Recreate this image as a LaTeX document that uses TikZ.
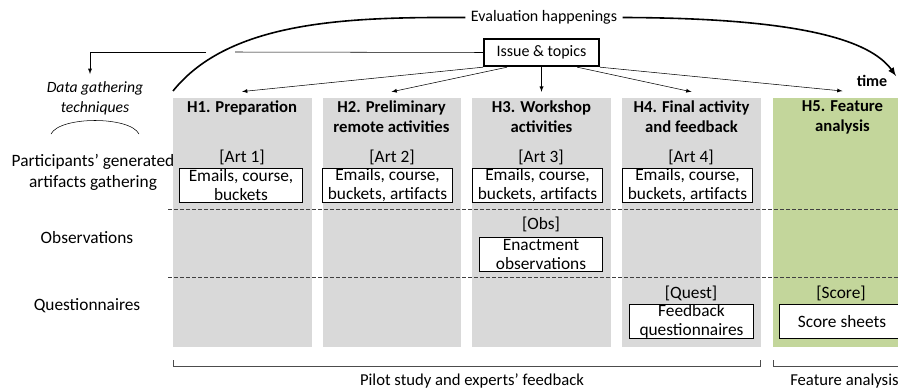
\documentclass[tikz,border=0pt]{standalone}
\usepackage{fontspec}
\setmainfont{Carlito}
\usetikzlibrary{arrows}
\definecolor{colgray}{HTML}{D9D9D9}
\definecolor{colgreen}{HTML}{C3D69B}
\tikzset{
  lbl/.style={inner sep=0.75pt, align=center, font=\fontsize{13}{15.75}\selectfont},
  hdr/.style={inner sep=0.75pt, align=center, font=\fontsize{12.5}{15}\selectfont\bfseries},
  itembox/.style={draw, fill=white, line width=0.75pt, inner xsep=0pt, inner ysep=-1pt, align=center,
    font=\fontsize{13}{14.25}\selectfont, minimum height=25.5pt},
}

\begin{document}
\begin{tikzpicture}[x=0.75pt,y=0.75pt,yscale=-1,xscale=1]
\useasboundingbox (0,0) rectangle (898,389);
\clip (0,0) rectangle (898,389);

%Shape: Rectangle (phase columns)
\foreach \x in {173,322.5,472,622}
  \fill[colgray] (\x,98) rectangle ++(138.5,249);
\fill[colgreen] (773,98) rectangle (912,347);

%Straight Lines (row separators)
\draw[dash pattern=on 3pt off 1.5pt, line width=0.6pt, color=black!75] (168,209) -- (898,209);
\draw[dash pattern=on 3pt off 1.5pt, line width=0.6pt, color=black!75] (168,277) -- (898,277);

% Text Node
\draw (242,108) node [hdr] (h1) {H1. Preparation};
\draw (391.5,117) node [hdr] (h2) {H2. Preliminary\\remote activities};
\draw (541.5,117) node [hdr] (h3) {H3. Workshop\\activities};
\draw (691.5,117) node [hdr] (h4) {H4. Final activity\\and feedback};
\draw (842.5,117) node [hdr] (h5) {H5. Feature\\analysis};
\draw (872,81) node [hdr, font=\fontsize{12}{14}\selectfont\bfseries] (time) {time};

% Text Node
\draw (541.5,52.5) node [lbl, font=\fontsize{12}{14}\selectfont, draw, line width=1.5pt, minimum width=86pt, minimum height=20.5pt] (issue) {Issue \& topics};
\draw (544,17.5) node [lbl, font=\fontsize{12}{14}\selectfont, inner sep=4pt] (eval) {Evaluation happenings};

%Curve Lines (time line)
\coordinate (tstart) at (173,91);
\coordinate (tend) at (896,76);
\draw[line width=1.2pt] (tstart) .. controls (230,20) and (350,17) .. (eval.west);
\draw[-latex, line width=1.2pt] (eval.east) .. controls (800,18) and (870,40) .. (tend);

%Straight Lines (topics to phases)
\draw[-latex] (issue.south west) -- ([yshift=-6pt]h1.north);
\draw[-latex] ([xshift=18pt]issue.south west) -- ([yshift=-6pt]h2.north);
\draw[-latex] (issue.south) -- ([yshift=-6pt]h3.north);
\draw[-latex] ([xshift=-17pt]issue.south east) -- ([yshift=-6pt]h4.north);
\draw[-latex] (issue.south east) -- ([yshift=-6pt]h5.north);

%Straight Lines (topics to techniques)
\coordinate (gapr) at (235,52);
\coordinate (gapl) at (206,52);
\coordinate (dgtop) at (90,74);
\draw (issue.west) -- (gapr);
\draw[-latex] (gapl) -| (dgtop);

% Text Node
\draw (95,98) node [lbl, font=\fontsize{11.75}{15}\selectfont\itshape] (dgt) {Data gathering\\techniques};
%Curve Lines
\draw (51,134) .. controls (60,116) and (130,116) .. (139,134);

% Text Node (rows)
\draw (93,172) node [lbl] (r1) {Participants’ generated\\artifacts gathering};
\draw (87,238) node [lbl] (r2) {Observations};
\draw (87,306) node [lbl] (r3) {Questionnaires};

% Text Node (tags)
\draw (242,157) node [lbl] (l1) {[Art 1]};
\draw (392,157) node [lbl] (l2) {[Art 2]};
\draw (541,157) node [lbl] (l3) {[Art 3]};
\draw (691,157) node [lbl] (l4) {[Art 4]};
\draw (541,224) node [lbl] (lobs) {[Obs]};
\draw (691,293) node [lbl] (lquest) {[Quest]};
\draw (841,293) node [lbl] (lscore) {[Score]};

% Text Node (boxes)
\draw (241,185) node [itembox, minimum width=92pt] (a1) {Emails, course,\\buckets};
\draw (387.5,185) node [itembox, minimum width=97.5pt] (a2) {Emails, course,\\buckets, artifacts};
\draw (537.5,185) node [itembox, minimum width=97.5pt] (a3) {Emails, course,\\buckets, artifacts};
\draw (687.5,185) node [itembox, minimum width=97.5pt] (a4) {Emails, course,\\buckets, artifacts};
\draw (541,254) node [itembox, minimum width=92pt] (obs) {Enactment\\observations};
\draw (691.5,321.5) node [itembox, minimum width=93pt, minimum height=26pt] (quest) {Feedback\\questionnaires};
\draw (842,321.5) node [itembox, minimum width=94pt, minimum height=26pt] (score) {Score sheets};

%Straight Lines (brackets)
\draw[color=black!70] (173,360) -- (173,366) -- (760,366) -- (760,360);
\draw[color=black!70] (773,360) -- (773,366) -- (900,366);

% Text Node
\draw (472,381) node [lbl, font=\fontsize{12.5}{15}\selectfont] (pilot) {Pilot study and experts’ feedback};
\draw (789,381) node [lbl, font=\fontsize{12.5}{15}\selectfont, anchor=west] (feat) {Feature analysis};

\end{tikzpicture}
\end{document}
